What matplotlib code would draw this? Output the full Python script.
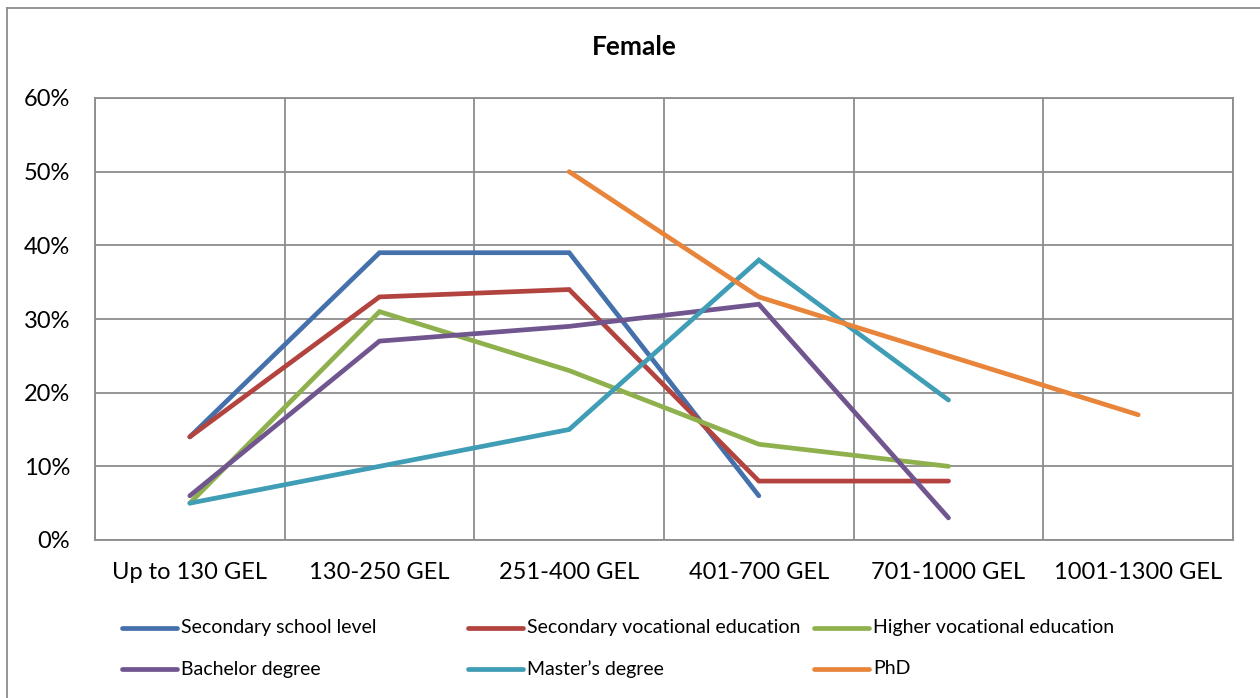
import matplotlib
matplotlib.use('Agg')
from matplotlib import pyplot as plt
from matplotlib.lines import Line2D
import numpy as np

plt.rcParams['font.family'] = ['Lato', 'DejaVu Sans']

income = ['Up to 130 GEL', '130-250 GEL', '251-400 GEL', '401-700 GEL',
          '701-1000 GEL', '1001-1300 GEL']

# share of women per income band, by education level (%)
secondary_school = [14, 39, 39, 6, None, None]
secondary_vocational = [14, 33, 34, 8, 8, None]
higher_vocational = [5, 31, 23, 13, 10, None]
bachelor = [6, 27, 29, 32, 3, None]
master = [5, 10, 15, 38, 19, None]
phd = [None, None, 50, 33, 25, 17]

series = [
    ('Secondary school level', secondary_school, '#4471AC'),
    ('Secondary vocational education', secondary_vocational, '#B3433F'),
    ('Higher vocational education', higher_vocational, '#8FB14D'),
    ('Bachelor degree', bachelor, '#70558F'),
    ('Master\u2019s degree', master, '#3F9DB6'),
    ('PhD', phd, '#E8853A'),
]

W, H = 1260, 698
fig = plt.figure(figsize=(W / 100, H / 100), dpi=100)
ax = fig.add_axes([95 / W, 1 - 540 / H, (1233 - 95) / W, (540 - 98) / H])

x = np.arange(len(income))
for name, vals, col in series:
    y = np.array([np.nan if v is None else v / 100 for v in vals])
    ax.plot(x, y, color=col, lw=3.4, solid_capstyle='round',
            solid_joinstyle='miter', zorder=3)

ax.set_xlim(-0.5, len(income) - 0.5)
ax.set_ylim(0, 0.6)
ax.set_yticks(np.arange(0, 0.61, 0.1))
ax.set_yticklabels([f'{int(round(t * 100))}%' for t in ax.get_yticks()])
ax.set_xticks(x)
ax.set_xticklabels(income)
ax.set_xticks(np.arange(-0.5, len(income), 1), minor=True)
ax.tick_params(axis='both', which='both', length=0, labelsize=17)
ax.tick_params(axis='x', pad=16)
ax.tick_params(axis='y', pad=18)
ax.grid(True, axis='y', which='major', color='#8C8C8C', lw=1.3)
ax.grid(True, axis='x', which='minor', color='#8C8C8C', lw=1.3)
for s in ax.spines.values():
    s.set_color('#8C8C8C')
    s.set_linewidth(1.3)

fig.text(634 / W, 1 - 47 / H, 'Female', ha='center', va='center',
         fontsize=19, fontweight='bold')

# legend: two rows of three, equally spaced columns
for i, (name, vals, col) in enumerate(series):
    r, c = divmod(i, 3)
    x0 = 122 + c * 346
    y0 = 1 - (628 + r * 41) / H
    fig.add_artist(Line2D([x0 / W, (x0 + 55) / W], [y0, y0], color=col,
                          lw=3.4, solid_capstyle='round'))
    fig.text((x0 + 59) / W, y0, name, ha='left', va='center', fontsize=14)

# chart frame (left and top edges)
fig.add_artist(Line2D([7 / W, 7 / W], [0, 1 - 8 / H], color='#8C8C8C', lw=1.3))
fig.add_artist(Line2D([7 / W, 1], [1 - 8 / H, 1 - 8 / H], color='#8C8C8C', lw=1.3))

fig.savefig('out.png', dpi=100)
